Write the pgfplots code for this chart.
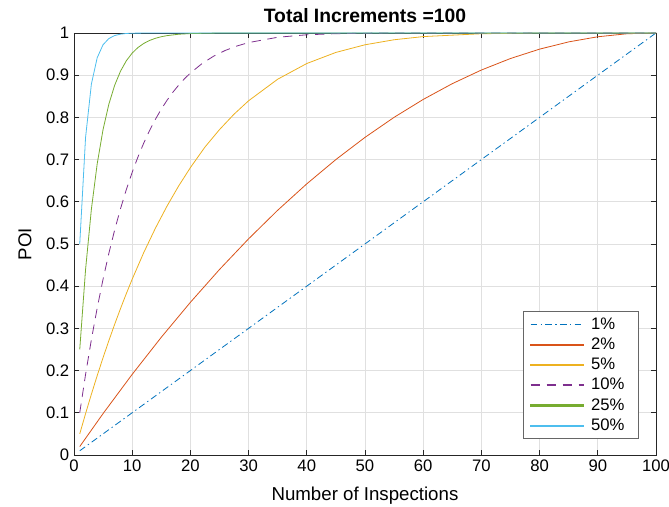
\documentclass[border=0pt]{standalone}
\usepackage{pgfplots}
\pgfplotsset{compat=1.18}
\usepackage{fontspec}
\setmainfont{Liberation Sans}
\definecolor{mA}{rgb}{0,0.447,0.741}
\definecolor{mB}{rgb}{0.85,0.325,0.098}
\definecolor{mC}{rgb}{0.929,0.694,0.125}
\definecolor{mD}{rgb}{0.494,0.184,0.556}
\definecolor{mE}{rgb}{0.466,0.674,0.188}
\definecolor{mF}{rgb}{0.301,0.745,0.933}
\begin{document}
\begin{tikzpicture}
\begin{axis}[
  scale only axis, width=436.5pt, height=316.5pt,
  xmin=0, xmax=100, ymin=0, ymax=1,
  xtick={0,10,20,30,40,50,60,70,80,90,100},
  ytick={0,0.1,0.2,0.3,0.4,0.5,0.6,0.7,0.8,0.9,1},
  yticklabels={0,0.1,0.2,0.3,0.4,0.5,0.6,0.7,0.8,0.9,1},
  grid=major, grid style={black!12, line width=0.5pt},
  axis line style={black!85, line width=0.6pt},
  tick style={black!85, line width=0.6pt},
  tick align=inside, major tick length=4pt,
  /pgf/number format/assume math mode=true,
  tick label style={font=\fontsize{12.5}{14}\selectfont},
  title={\bfseries Total Increments =100},
  title style={font=\fontsize{14.5}{16}\selectfont, yshift=-2pt},
  xlabel={Number of Inspections},
  ylabel={POI},
  label style={font=\fontsize{14}{16}\selectfont},
  xlabel style={yshift=-5pt},
  ylabel style={yshift=4pt},
  legend style={name=leg, at={(rel axis cs:0.969,0.04)}, anchor=south east,
    font=\fontsize{12.5}{14}\selectfont, draw=none, fill=white,
    row sep=1pt, inner xsep=5pt, inner ysep=2pt, nodes={inner xsep=5pt}},
  legend cell align=left,
]
\addplot[color=mA, line width=0.6pt, dash pattern=on 5pt off 2.5pt on 1pt off 2.5pt,
  legend image code/.code={\draw[draw=mA, line width=0.9pt, dash pattern=on 5pt off 2.5pt on 1pt off 2.5pt] (0cm,0cm) -- (1.4cm,0cm);}] coordinates {(1,0.01) (100,1)};
\addlegendentry{1\%}
\addplot[color=mB, line width=0.6pt,
  legend image code/.code={\fill[fill=mB] (0cm,-0.45pt) rectangle (1.4cm,0.45pt);}] coordinates {(1,0.02) (5,0.0980) (10,0.1909) (15,0.2788) (20,0.3616) (25,0.4394) (30,0.5121) (35,0.5798) (40,0.6424) (45,0.7) (50,0.7525) (55,0.8) (60,0.8424) (65,0.8798) (70,0.9121) (75,0.9394) (80,0.9616) (85,0.9788) (90,0.9909) (95,0.9980) (100,1)};
\addlegendentry{2\%}
\addplot[color=mC, line width=0.6pt,
  legend image code/.code={\fill[fill=mC] (0cm,-0.45pt) rectangle (1.4cm,0.45pt);}] coordinates {(1,0.05) (2,0.0980) (3,0.1440) (4,0.1881) (5,0.2304) (6,0.2709) (7,0.3097) (8,0.3468) (9,0.3823) (10,0.4162) (12,0.4797) (14,0.5374) (16,0.5899) (18,0.6376) (20,0.6807) (22.5,0.7294) (25,0.7708) (27.5,0.8074) (30,0.8392) (35,0.8903) (40,0.9275) (45,0.9538) (50,0.9719) (55,0.9838) (60,0.9913) (70,0.9981) (80,0.9998) (90,1) (100,1)};
\addlegendentry{5\%}
\addplot[color=mD, line width=0.6pt, dash pattern=on 7pt off 5pt,
  legend image code/.code={\draw[draw=mD, line width=0.9pt, dash pattern=on 7pt off 5pt] (0cm,0cm) -- (1.4cm,0cm);}] coordinates {(1,0.1) (2,0.1909) (3,0.2735) (4,0.3484) (5,0.4162) (6,0.4777) (7,0.5333) (8,0.5834) (9,0.6287) (10,0.6695) (11,0.7062) (12,0.7392) (13,0.7689) (14,0.7954) (15,0.8192) (16,0.8405) (17,0.8595) (18,0.8764) (19,0.8915) (20,0.9049) (22,0.9273) (24,0.9449) (26,0.9585) (28,0.9690) (30,0.9771) (35,0.9897) (40,0.9956) (45,0.9982) (50,0.9994) (60,1) (100,1)};
\addlegendentry{10\%}
\addplot[color=mE, line width=0.6pt,
  legend image code/.code={\fill[fill=mE] (0cm,-0.45pt) rectangle (1.4cm,0.45pt);}] coordinates {(1,0.25) (2,0.4394) (3,0.5824) (4,0.6900) (5,0.7708) (6,0.8311) (7,0.8760) (8,0.9093) (9,0.9340) (10,0.9521) (11,0.9654) (12,0.9751) (13,0.9822) (14,0.9873) (15,0.9910) (16,0.9936) (18,0.9969) (20,0.9985) (25,0.9998) (30,1) (100,1)};
\addlegendentry{25\%}
\addplot[color=mF, line width=0.6pt,
  legend image code/.code={\fill[fill=mF] (0cm,-0.45pt) rectangle (1.4cm,0.45pt);}] coordinates {(1,0.5) (2,0.7525) (3,0.8788) (4,0.9413) (5,0.9719) (6,0.9867) (7,0.9938) (8,0.9971) (9,0.9987) (10,0.9994) (15,1) (100,1)};
\addlegendentry{50\%}
\coordinate (bl) at (rel axis cs:-0.127,-0.121);
\coordinate (tr) at (rel axis cs:1.0223,1.078);
\end{axis}
\draw[black!60, line width=0.6pt] (leg.south west) rectangle (leg.north east);
\pgfresetboundingbox
\path[use as bounding box] (bl) rectangle (tr);
\end{tikzpicture}
\end{document}
